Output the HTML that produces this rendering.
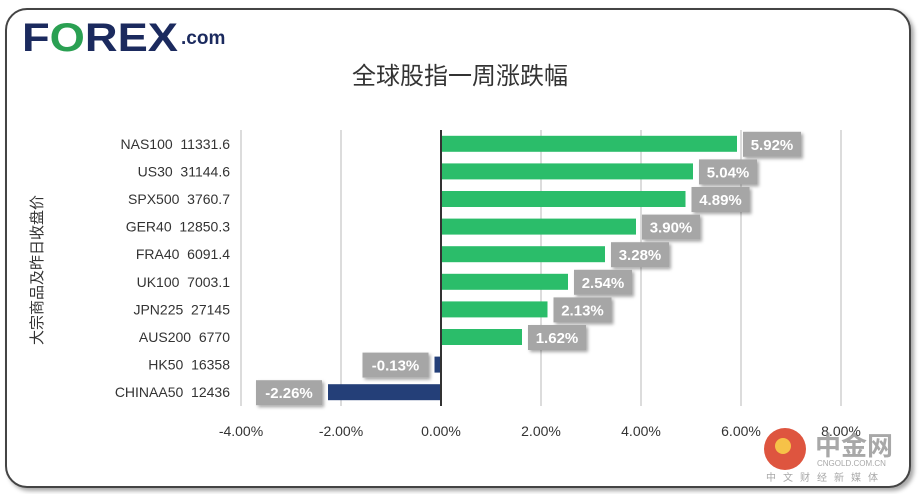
<!DOCTYPE html>
<html><head><meta charset="utf-8"><style>
body{margin:0;width:920px;height:494px;background:#fff;overflow:hidden;font-family:"Liberation Sans","Noto Sans CJK SC",sans-serif}
#card{position:absolute;left:5px;top:8px;width:902px;height:476px;border:2px solid #444;border-radius:22px;box-shadow:3px 3px 4px rgba(0,0,0,.35);background:#fff}
</style></head><body>
<div id="card"></div>
<svg width="920" height="494" style="position:absolute;left:0;top:0" id="chart">
<defs><filter id="sh" x="-20%" y="-20%" width="150%" height="160%"><feDropShadow dx="2" dy="2" stdDeviation="1.5" flood-color="#000" flood-opacity="0.35"/></filter></defs>
<g>
<text x="22" y="51" font-family="Liberation Sans,sans-serif" font-weight="bold" font-size="40" fill="#1b2a5e" textLength="156" lengthAdjust="spacingAndGlyphs">F<tspan fill="#2aa052">O</tspan>REX</text>
<text x="181" y="44" font-family="Liberation Sans,sans-serif" font-weight="bold" font-size="19" fill="#1b2a5e">.com</text>
</g>
<text x="460" y="84" text-anchor="middle" font-size="24" fill="#333" font-family="Liberation Sans,Noto Sans CJK SC,sans-serif">全球股指一周涨跌幅</text>
<text transform="translate(42,270) rotate(-90)" text-anchor="middle" font-size="15" fill="#333" font-family="Liberation Sans,Noto Sans CJK SC,sans-serif">大宗商品及昨日收盘价</text>
<g id="grid"></g><g id="bars"></g><g id="labels"></g><g id="ticks"></g>
<g opacity="0.85">
<circle cx="785" cy="449" r="21" fill="#d9381e"/><circle cx="783" cy="446" r="8" fill="#f5b829"/>
<text x="815" y="455" font-size="26" font-weight="bold" fill="#999" font-family="Noto Sans CJK SC,sans-serif">中金网</text>
<text x="817" y="466" font-size="8" fill="#999">CNGOLD.COM.CN</text>
<text x="766" y="481" font-size="10" fill="#999" letter-spacing="7" font-family="Noto Sans CJK SC,sans-serif">中文财经新媒体</text>
</g>
</svg>
<script>
const categories=["NAS100  11331.6","US30  31144.6","SPX500  3760.7","GER40  12850.3","FRA40  6091.4","UK100  7003.1","JPN225  27145","AUS200  6770","HK50  16358","CHINAA50  12436"];
const values=[5.92,5.04,4.89,3.90,3.28,2.54,2.13,1.62,-0.13,-2.26];
const tickValues=[-4,-2,0,2,4,6,8];
const tickLabels=["-4.00%","-2.00%","0.00%","2.00%","4.00%","6.00%","8.00%"];
const NS="http://www.w3.org/2000/svg";
const x0=441,pxPer=50,yTop=130,yBottom=406;
const X=v=>x0+v*pxPer;
const band=(yBottom-yTop)/categories.length;
const Y=i=>yTop+band*(i+0.5);
function mk(t,a,p){const e=document.createElementNS(NS,t);for(const k in a)e.setAttribute(k,a[k]);p.appendChild(e);return e;}
const grid=document.getElementById('grid'),bars=document.getElementById('bars'),labs=document.getElementById('labels'),ticks=document.getElementById('ticks');
tickValues.forEach((v,i)=>{
 if(v!==0){const l=mk('line',{x1:X(v),x2:X(v),y1:yTop,y2:yBottom,stroke:'#d0d0d0','stroke-width':1.5},grid);
 
 }
 const t=mk('text',{x:X(v),y:436,'text-anchor':'middle','font-size':14,fill:'#333'},ticks);t.textContent=tickLabels[i];
 
 
});
categories.forEach((c,i)=>{
 const y=Y(i),v=values[i];
 const t=mk('text',{x:230,y:y+5,'text-anchor':'end','font-size':14,fill:'#333'},ticks);t.textContent=c;t.style.whiteSpace='pre';
 
 
 const x1=Math.min(X(0),X(v)),w=Math.abs(X(v)-X(0));
 const b=mk('rect',{x:x1,y:y-8,width:w,height:16,fill:v>=0?'#2bbd6a':'#243f78'},bars);
 
 
 const txt=v.toFixed(2)+'%',bw=txt.length*8+18;
 const bx=v>=0?X(v)+6:X(v)-bw-6;
 const g=mk('g',{},labs);
 
 
 mk('rect',{x:bx,y:y-12,width:bw,height:25,fill:'#a6a6a6',filter:'url(#sh)'},g);
 const tt=mk('text',{x:bx+bw/2,y:y+6,'text-anchor':'middle','font-size':15,'font-weight':'bold',fill:'#fff'},g);tt.textContent=txt;
});
const ax=mk('line',{x1:X(0),x2:X(0),y1:yTop,y2:yBottom,stroke:'#333','stroke-width':2},bars);


</script>
</body></html>
